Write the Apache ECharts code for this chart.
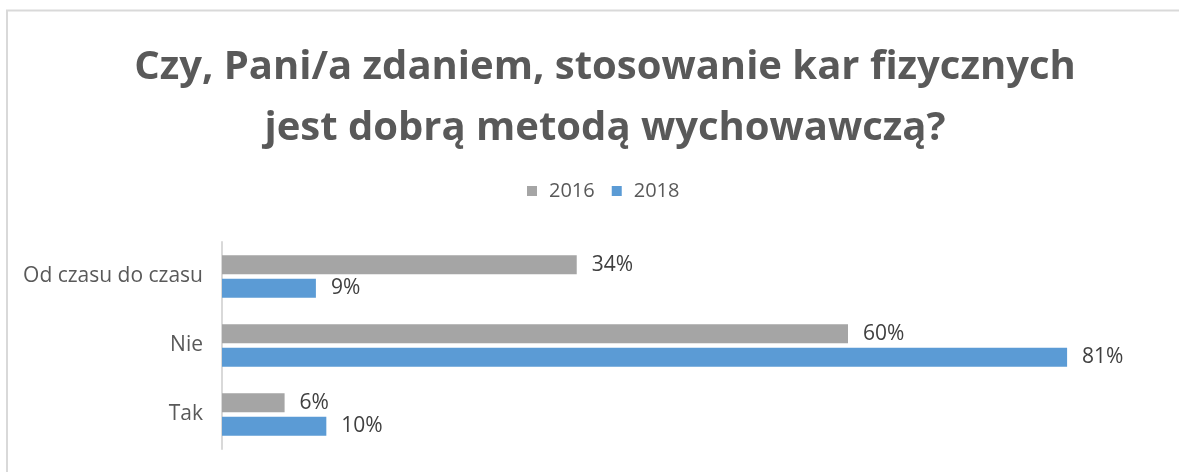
<!DOCTYPE html>
<html>
<head>
<meta charset="utf-8">
<script src="https://cdn.jsdelivr.net/npm/echarts@6/dist/echarts.min.js"></script>
<style>html,body{margin:0;padding:0;background:#fff}#c{width:1179px;height:472px}</style>
</head>
<body>
<div id="c"></div>
<script>
const titleText = 'Czy, Pani/a zdaniem, stosowanie kar fizycznych\njest dobrą metodą wychowawczą?';
const categories = ['Tak', 'Nie', 'Od czasu do czasu'];
const seriesNames = ['2016', '2018'];
const values2016 = [6, 60, 34];
const values2018 = [10, 81, 9];
const colors = ['#A5A5A5', '#5B9BD5'];
const FONT = 'Open Sans';

const chart = echarts.init(document.getElementById('c'), null, {renderer: 'canvas'});
const labelCfg = {
  show: true, position: 'right', distance: 15,
  formatter: p => p.value + '%',
  color: '#404040', fontSize: 21, fontFamily: FONT
};
chart.setOption({
  animation: false,
  backgroundColor: '#ffffff',
  graphic: [{
    type: 'rect', silent: true,
    shape: {x: 7, y: 10.5, width: 1300, height: 600},
    style: {fill: 'none', stroke: '#d9d9d9', lineWidth: 2}
  }],
  title: {
    text: titleText,
    left: 600, top: 32, textAlign: 'center',
    textStyle: {fontFamily: FONT, fontSize: 40, fontWeight: 'bold', color: '#595959', lineHeight: 61}
  },
  legend: {
    top: 176, left: 522,
    data: seriesNames,
    icon: 'rect', itemWidth: 10, itemHeight: 10, itemGap: 17,
    textStyle: {fontFamily: FONT, fontSize: 20, color: '#595959', padding: [0, 0, 0, 7]}
  },
  grid: {left: 222, right: 18, top: 242, height: 207, containLabel: false},
  xAxis: {
    type: 'value', min: 0, max: 90, show: false
  },
  yAxis: {
    type: 'category', data: categories,
    axisLine: {show: true, lineStyle: {color: '#d9d9d9', width: 2}},
    axisTick: {show: false},
    axisLabel: {fontFamily: FONT, fontSize: 21, color: '#595959', margin: 19},
    splitLine: {show: false}
  },
  series: [
    {name: seriesNames[0], type: 'bar', data: values2016, barWidth: 19, barGap: '24%',
     itemStyle: {color: colors[0]}, label: labelCfg},
    {name: seriesNames[1], type: 'bar', data: values2018, barWidth: 19, barGap: '24%',
     itemStyle: {color: colors[1]}, label: labelCfg}
  ]
});
</script>
</body>
</html>
